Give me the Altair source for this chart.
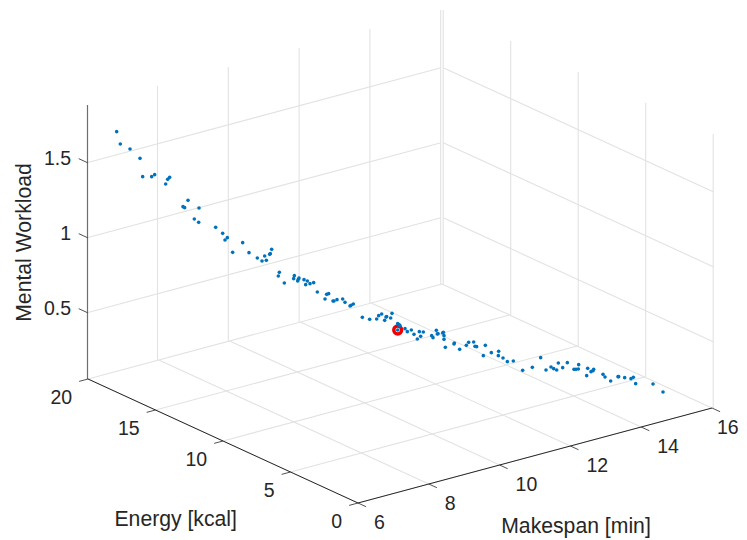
import altair as alt
import pandas as pd

# Tick values of the three axes
makespan_ticks = [6, 8, 10, 12, 14, 16]
energy_ticks = [0, 5, 10, 15, 20]
workload_ticks = [0.5, 1, 1.5]
workload_tick_labels = ["0.5", "1", "1.5"]
WORKLOAD_MIN, WORKLOAD_MAX = 0.058, 1.885

# Points, in the view plane (horizontal, vertical)
pts_a = [(350,125),(361,162),(390,177),(420,205),(428,260),(455,260),(464,254),(497,282),(503,268),(509,262),
         (549,350),(554,353),(564,331),(597,354),(583,387),(596,397),(647,412),(668,430),(675,450),(682,443),
         (698,487),(728,458),(747,488),(772,504),(786,513),(794,498),(799,511),(809,493),(811,491),(815,478)]
pts_b = [(88,7),(85,18),(103,39),(133,17),(131,26),(143,33),(147,24),(145,28),(162,29),(172,33),(167,44),(180,41),
         (191,38),(202,66),(230,73),(236,71),(225,87),(249,93),(252,93),(261,89),(278,87),(285,97),(300,108),
         (303,106),(310,102),(337,142),(359,148),(380,147),(386,137),(395,132),(404,151),(408,141),(410,140),
         (422,144),(426,130),(443,161),(447,164),(450,167),(443,180),(465,176),(472,185),(484,180),(492,193),
         (508,185),(520,186),(512,199),(502,207),(545,197),(549,203),(559,181),(562,192),(564,191),(578,189),
         (580,187),(582,197),(582,208),(586,232),(613,219),(612,222),(629,238),(649,226),(656,217),(671,216),
         (675,229),(680,230),(706,226),(700,257),(724,248),(746,244),(745,257)]
pts_c = [(69,84),(82,95),(100,93),(128,121),(157,112),(182,83),(198,120),(213,111),(221,116),(230,120),(235,99),
         (248,113),(262,98),(282,118),(288,118),(295,117),(296,104),(320,137),(323,115),(333,125),(339,122),
         (341,118),(369,133),(375,141),(392,153),(414,140),(416,140),(434,143),(453,146),(460,142),(467,161),
         (519,162),(549,186)]
highlight = [(397.7, 330)]

GRID = "#e2e2e2"
DARK = "#262626"
BLUE = "#0072BD"
FONT = "Liberation Sans"


def proj(m, e, z=WORKLOAD_MIN):
    return (358 + 35.4 * (m - 6) - 13.5 * e,
            503 - 9.5 * (m - 6) - 6.2 * e - 150 * (z - WORKLOAD_MIN))


def seg(a, b, dx=0):
    return dict(x=a[0] + dx, y=a[1], x2=b[0] + dx, y2=b[1])


grid = []
for m in makespan_ticks:
    grid.append(seg(proj(m, 0), proj(m, 20)))
    if m > 6:
        grid.append(seg(proj(m, 20), proj(m, 20, WORKLOAD_MAX), -1.3))
for e in energy_ticks:
    grid.append(seg(proj(6, e), proj(16, e)))
    grid.append(seg(proj(16, e), proj(16, e, WORKLOAD_MAX), 1.2))
for z in workload_ticks:
    grid.append(seg(proj(6, 20, z), proj(16, 20, z), -1.0))
    grid.append(seg(proj(16, 20, z), proj(16, 0, z), 1.2))

axes = [seg(proj(6, 0), proj(16, 0)), seg(proj(6, 0), proj(6, 20))]
ticks = []
for m in makespan_ticks:
    ticks.append(seg(proj(m, 0), proj(m, -0.6)))
for e in energy_ticks:
    ticks.append(seg(proj(6, e), proj(5.75, e)))
for z in workload_ticks:
    ticks.append(seg(proj(6, 20, z), proj(6, 20.65, z), -0.5))
zaxis = [seg(proj(6, 20), proj(6, 20, WORKLOAD_MAX), -0.5)]

labels = []
for m in makespan_ticks:
    p = proj(m, 0)
    # the last label sits against the page's right edge, so it is pulled in to stay whole
    labels.append(dict(x=min(p[0] + 16, 717), y=p[1] + 20, t=str(m), a="left"))
for e in energy_ticks:
    p = proj(6, e)
    labels.append(dict(x=p[0] - 15.8, y=p[1] + 19, t=str(e), a="right"))
for z, t in zip(workload_ticks, workload_tick_labels):
    p = proj(6, 20, z)
    labels.append(dict(x=71, y=p[1] - 4, t=t, a="right"))

titles = [dict(x=175.7, y=520, t="Energy [kcal]", r=0),
          dict(x=576, y=526.7, t="Makespan [min]", r=0),
          dict(x=24.5, y=242.5, t="Mental Workload", r=270)]

points = [dict(x=x / 3, y=y / 3 + 90) for x, y in pts_a]
points += [dict(x=x / 3 + 250, y=y / 3 + 270) for x, y in pts_b]
points += [dict(x=x / 3 + 480, y=y / 3 + 330) for x, y in pts_c]

X = alt.X("x:Q", scale=alt.Scale(domain=[8, 739], nice=False, zero=False), axis=None)
Y = alt.Y("y:Q", scale=alt.Scale(domain=[540, 8], nice=False, zero=False), axis=None)


def rules(rows, color, width):
    return alt.Chart(pd.DataFrame(rows)).mark_rule(color=color, strokeWidth=width, clip=False).encode(
        x=X, y=Y, x2="x2:Q", y2="y2:Q")


tick_text = alt.layer(*[
    alt.Chart(pd.DataFrame([r for r in labels if r["a"] == a])).mark_text(
        font=FONT, fontSize=19.5, color=DARK, align=a, baseline="middle").encode(x=X, y=Y, text="t:N")
    for a in ("left", "right")])

title_text = alt.layer(*[
    alt.Chart(pd.DataFrame([r for r in titles if r["r"] == rot])).mark_text(
        font=FONT, fontSize=21.2, color=DARK, align="center", baseline="middle", angle=rot).encode(
        x=X, y=Y, text="t:N")
    for rot in (0, 270)])

red = alt.Chart(pd.DataFrame([dict(x=a, y=b) for a, b in highlight])).mark_point(
    shape="circle", filled=False, color="#f00000", size=62, strokeWidth=3.4, opacity=1).encode(x=X, y=Y)
dots = alt.Chart(pd.DataFrame(points)).mark_point(
    shape="circle", filled=True, color=BLUE, size=13, opacity=1).encode(x=X, y=Y)

chart = alt.layer(
    rules(grid, GRID, 1.1), rules(zaxis, "#6e6e6e", 1.2), rules(axes, DARK, 1), rules(ticks, DARK, 0.8),
    red, dots, tick_text, title_text
).properties(width=731, height=532, padding=0, background="white",
             autosize=alt.AutoSizeParams(type="none", contains="padding")).configure_view(stroke=None)

chart.save("out.html", embed_options={"renderer": "svg", "actions": False})
